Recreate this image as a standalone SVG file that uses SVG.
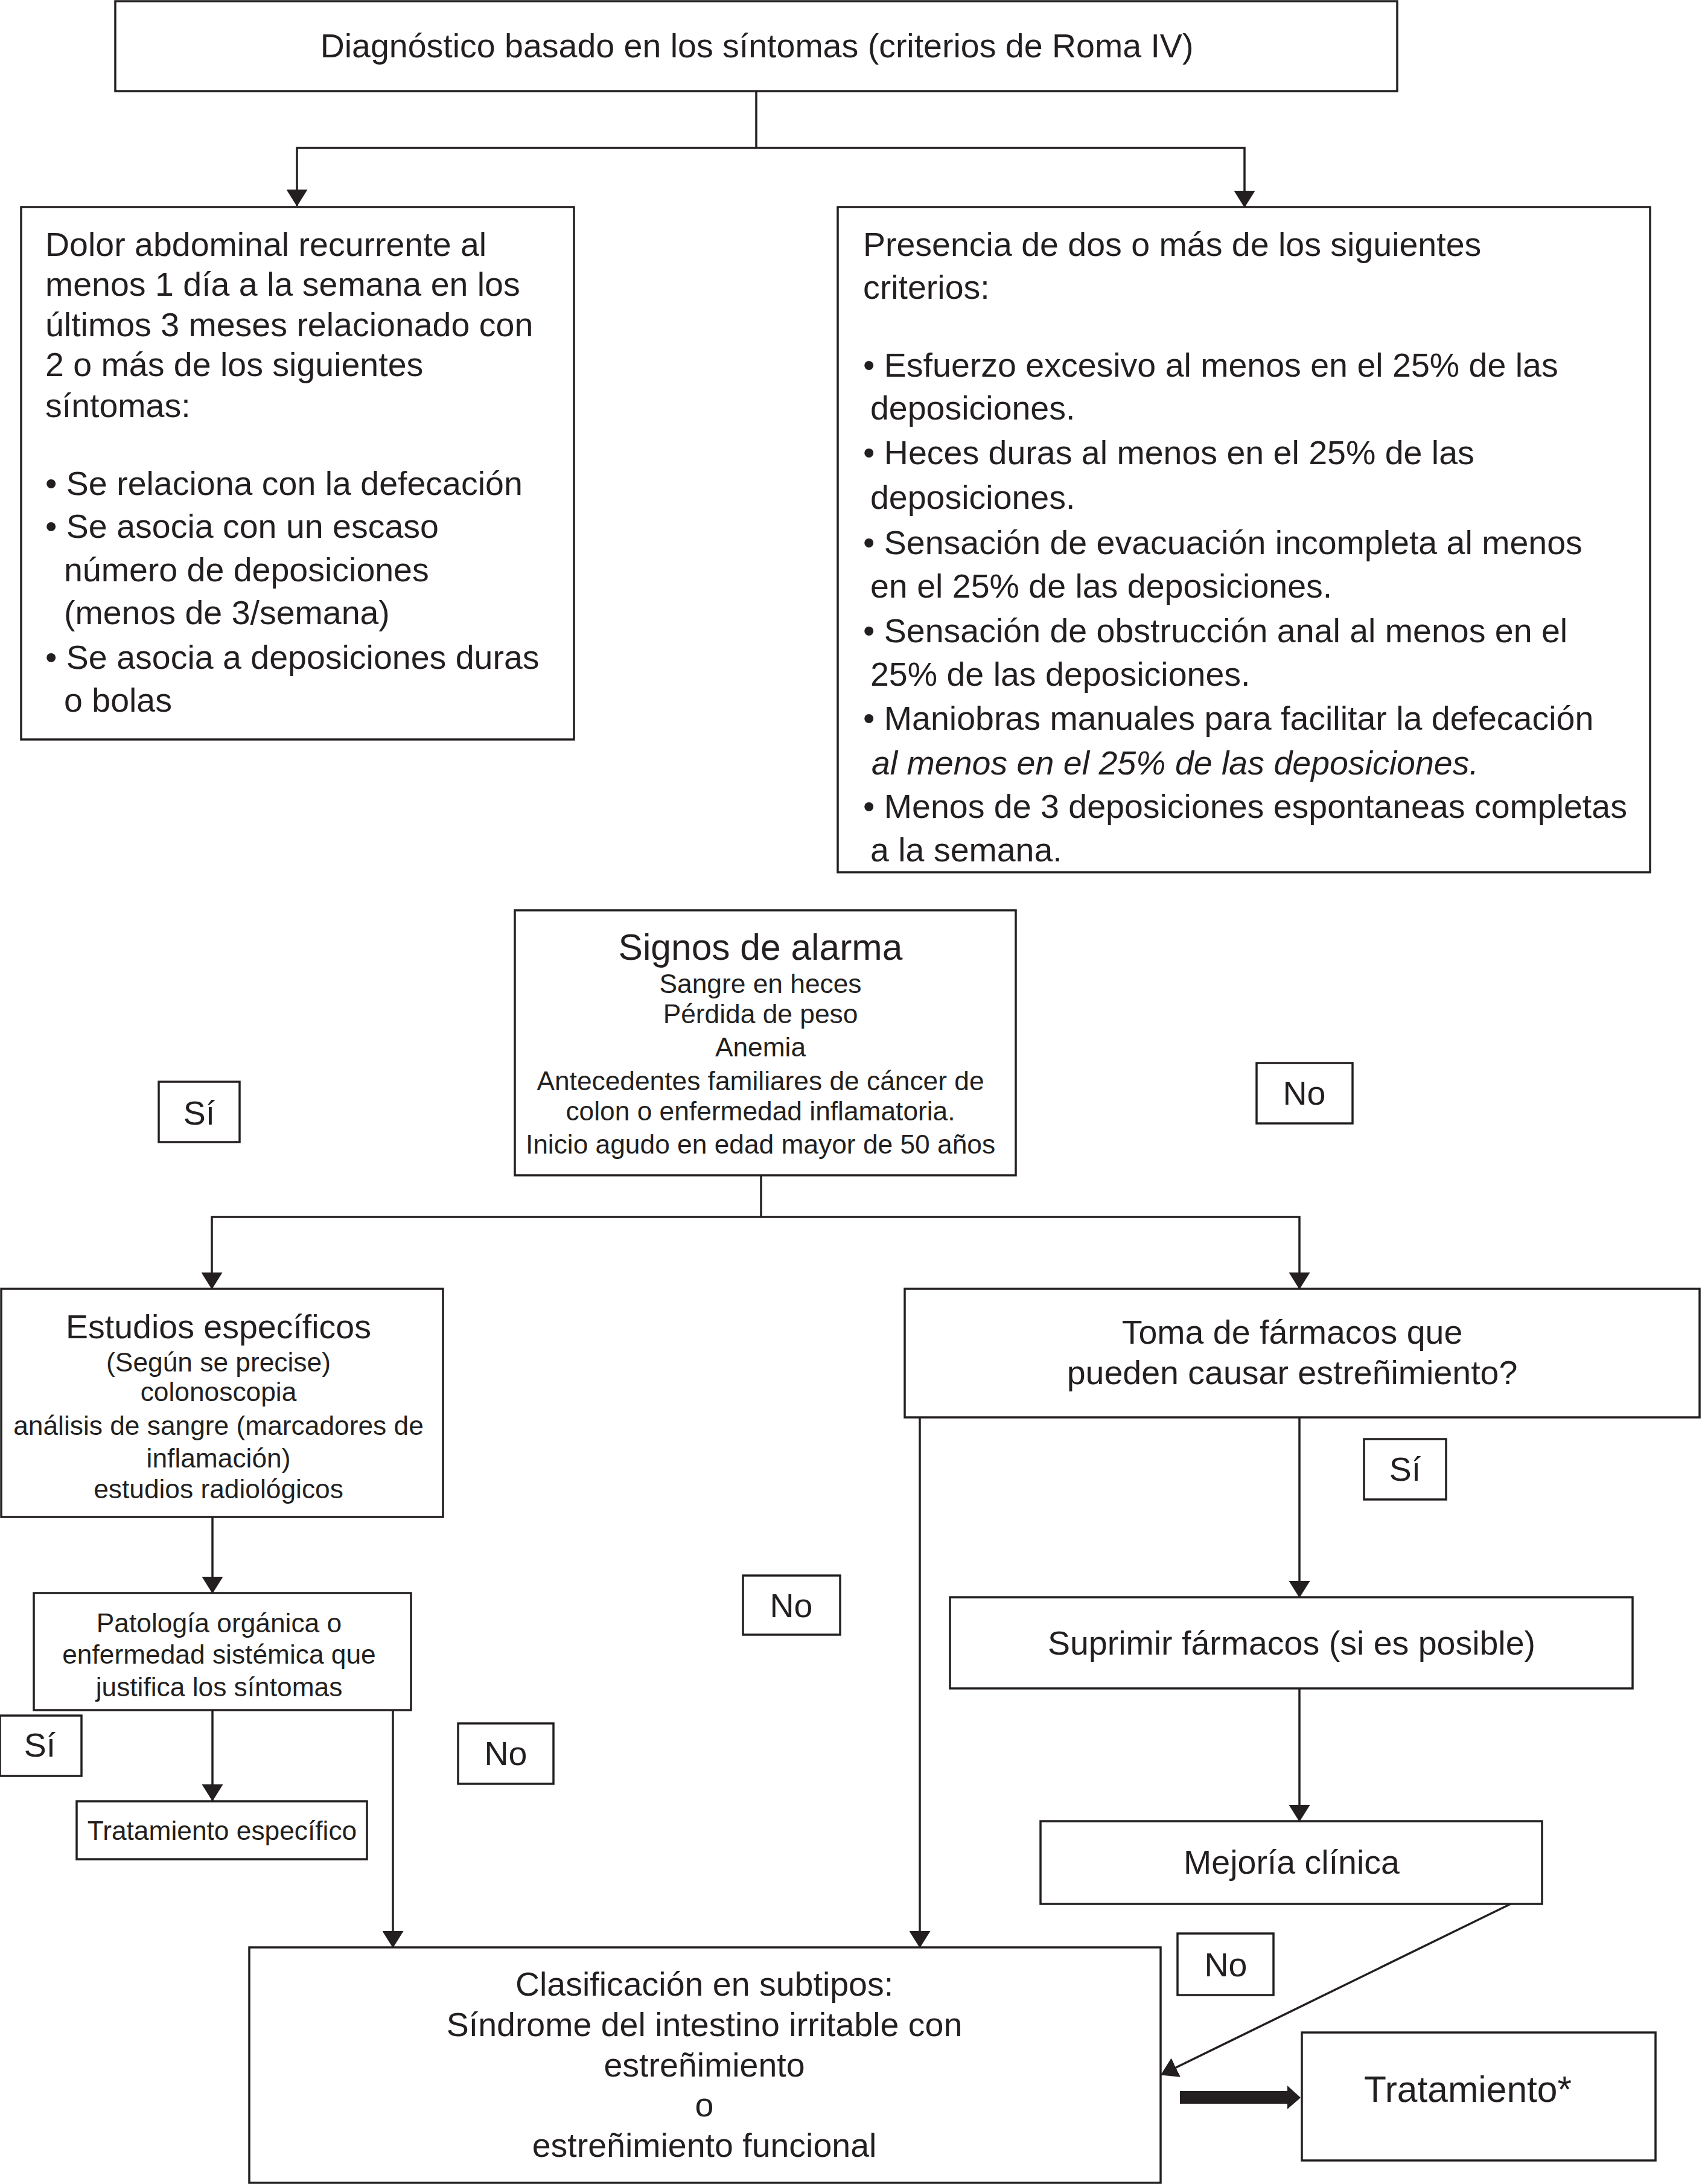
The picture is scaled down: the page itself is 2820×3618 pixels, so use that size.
<svg xmlns="http://www.w3.org/2000/svg" width="2820" height="3618" viewBox="0 0 2820 3618">
<style>
  .box { fill: #ffffff; stroke: #231f20; stroke-width: 3.5; }
  .t { font-family: "Liberation Sans", Arial, sans-serif; fill: #231f20; }
  .m { font-size: 55.5px; }
  .s { font-size: 44.3px; }
  .h { font-size: 60.5px; }
  .c { text-anchor: middle; }
  .it { font-style: italic; }
  .ln { fill: none; stroke: #231f20; stroke-width: 3.5; }
  .ar { marker-end: url(#arrow); }
</style>
<defs>
  <marker id="arrow" markerUnits="userSpaceOnUse" viewBox="0 0 28 35" markerWidth="28" markerHeight="35" refX="27" refY="17.5" orient="auto">
    <path d="M0,0 L28,17.5 L0,35 Z" fill="#231f20"/>
  </marker>
</defs>
<rect width="2820" height="3618" fill="#ffffff"/>

<g id="connectors">
  <polyline class="ln" points="1253,151 1253,245"/>
  <polyline class="ln ar" points="1253,245 492,245 492,341"/>
  <polyline class="ln ar" points="1253,245 2062,245 2062,343"/>
  <polyline class="ln" points="1261,1947 1261,2016"/>
  <polyline class="ln ar" points="1261,2016 351,2016 351,2135"/>
  <polyline class="ln ar" points="1261,2016 2153,2016 2153,2135"/>
  <line class="ln ar" x1="352" y1="2513" x2="352" y2="2639"/>
  <line class="ln ar" x1="352" y1="2833" x2="352" y2="2983"/>
  <line class="ln ar" x1="651" y1="2833" x2="651" y2="3226"/>
  <line class="ln ar" x1="1524" y1="2348" x2="1524" y2="3226"/>
  <line class="ln ar" x1="2153" y1="2348" x2="2153" y2="2646"/>
  <line class="ln ar" x1="2153" y1="2797" x2="2153" y2="3017"/>
  <line class="ln ar" x1="2503" y1="3154" x2="1924" y2="3437"/>
  <polygon points="1955,3464 2133,3464 2133,3455 2155,3475 2133,3494 2133,3485 1955,3485" fill="#231f20"/>
</g>

<g id="diagnostico">
  <rect class="box" x="191" y="2" width="2124" height="149"/>
  <text class="t m c" x="1254" y="95">Diagnóstico basado en los síntomas (criterios de Roma IV)</text>
</g>

<g id="dolor">
  <rect class="box" x="35" y="343" width="916" height="882"/>
  <text class="t m" x="75" y="424">Dolor abdominal recurrente al</text>
  <text class="t m" x="75" y="490">menos 1 día a la semana en los</text>
  <text class="t m" x="75" y="557">últimos 3 meses relacionado con</text>
  <text class="t m" x="75" y="623">2 o más de los siguientes</text>
  <text class="t m" x="75" y="691">síntomas:</text>
  <text class="t m" x="75" y="820">• Se relaciona con la defecación</text>
  <text class="t m" x="75" y="891">• Se asocia con un escaso</text>
  <text class="t m" x="106" y="963">número de deposiciones</text>
  <text class="t m" x="106" y="1034">(menos de 3/semana)</text>
  <text class="t m" x="75" y="1108">• Se asocia a deposiciones duras</text>
  <text class="t m" x="106" y="1179">o bolas</text>
</g>

<g id="criterios">
  <rect class="box" x="1388" y="343" width="1346" height="1102"/>
  <text class="t m" x="1430" y="424">Presencia de dos o más de los siguientes</text>
  <text class="t m" x="1430" y="495">criterios:</text>
  <text class="t m" x="1430" y="624">• Esfuerzo excesivo al menos en el 25% de las</text>
  <text class="t m" x="1442" y="695">deposiciones.</text>
  <text class="t m" x="1430" y="769">• Heces duras al menos en el 25% de las</text>
  <text class="t m" x="1442" y="843">deposiciones.</text>
  <text class="t m" x="1430" y="918">• Sensación de evacuación incompleta al menos</text>
  <text class="t m" x="1442" y="990">en el 25% de las deposiciones.</text>
  <text class="t m" x="1430" y="1064">• Sensación de obstrucción anal al menos en el</text>
  <text class="t m" x="1442" y="1136">25% de las deposiciones.</text>
  <text class="t m" x="1430" y="1209">• Maniobras manuales para facilitar la defecación</text>
  <text class="t m it" x="1444" y="1283">al menos en el 25% de las deposiciones.</text>
  <text class="t m" x="1430" y="1355">• Menos de 3 deposiciones espontaneas completas</text>
  <text class="t m" x="1442" y="1427">a la semana.</text>
</g>

<g id="signos">
  <rect class="box" x="853" y="1508" width="830" height="439"/>
  <text class="t h c" x="1260" y="1590">Signos de alarma</text>
  <text class="t s c" x="1260" y="1645">Sangre en heces</text>
  <text class="t s c" x="1260" y="1695">Pérdida de peso</text>
  <text class="t s c" x="1260" y="1750">Anemia</text>
  <text class="t s c" x="1260" y="1806">Antecedentes familiares de cáncer de</text>
  <text class="t s c" x="1260" y="1856">colon o enfermedad inflamatoria.</text>
  <text class="t s c" x="1260" y="1911">Inicio agudo en edad mayor de 50 años</text>
</g>

<g id="label-si-1">
  <rect class="box" x="263" y="1792" width="134" height="100"/>
  <text class="t m c" x="330" y="1863">Sí</text>
</g>

<g id="label-no-1">
  <rect class="box" x="2082" y="1761" width="159" height="100"/>
  <text class="t m c" x="2161" y="1830">No</text>
</g>

<g id="estudios">
  <rect class="box" x="2" y="2135" width="732" height="378"/>
  <text class="t m c" x="362" y="2217">Estudios específicos</text>
  <text class="t s c" x="362" y="2272">(Según se precise)</text>
  <text class="t s c" x="362" y="2321">colonoscopia</text>
  <text class="t s c" x="362" y="2377">análisis de sangre (marcadores de</text>
  <text class="t s c" x="362" y="2431">inflamación)</text>
  <text class="t s c" x="362" y="2482">estudios radiológicos</text>
</g>

<g id="toma">
  <rect class="box" x="1499" y="2135" width="1317" height="213"/>
  <text class="t m c" x="2141" y="2226">Toma de fármacos que</text>
  <text class="t m c" x="2141" y="2293">pueden causar estreñimiento?</text>
</g>

<g id="label-si-2">
  <rect class="box" x="2260" y="2384" width="136" height="100"/>
  <text class="t m c" x="2328" y="2453">Sí</text>
</g>

<g id="patologia">
  <rect class="box" x="56" y="2639" width="625" height="194"/>
  <text class="t s c" x="363" y="2704">Patología orgánica o</text>
  <text class="t s c" x="363" y="2756">enfermedad sistémica que</text>
  <text class="t s c" x="363" y="2810">justifica los síntomas</text>
</g>

<g id="label-no-2">
  <rect class="box" x="1231" y="2610" width="161" height="98"/>
  <text class="t m c" x="1311" y="2679">No</text>
</g>

<g id="suprimir">
  <rect class="box" x="1574" y="2646" width="1131" height="151"/>
  <text class="t m c" x="2140" y="2741">Suprimir fármacos (si es posible)</text>
</g>

<g id="label-si-3">
  <rect class="box" x="0" y="2842" width="135" height="100"/>
  <text class="t m c" x="66" y="2910">Sí</text>
</g>

<g id="label-no-3">
  <rect class="box" x="759" y="2855" width="158" height="100"/>
  <text class="t m c" x="838" y="2924">No</text>
</g>

<g id="tratamiento-especifico">
  <rect class="box" x="127" y="2984" width="481" height="96"/>
  <text class="t s c" x="368" y="3048">Tratamiento específico</text>
</g>

<g id="mejoria">
  <rect class="box" x="1724" y="3017" width="831" height="137"/>
  <text class="t m c" x="2140" y="3104">Mejoría clínica</text>
</g>

<g id="label-no-4">
  <rect class="box" x="1951" y="3203" width="159" height="102"/>
  <text class="t m c" x="2031" y="3274">No</text>
</g>

<g id="clasificacion">
  <rect class="box" x="413" y="3226" width="1510" height="390"/>
  <text class="t m c" x="1167" y="3306">Clasificación en subtipos:</text>
  <text class="t m c" x="1167" y="3373">Síndrome del intestino irritable con</text>
  <text class="t m c" x="1167" y="3440">estreñimiento</text>
  <text class="t m c" x="1167" y="3506">o</text>
  <text class="t m c" x="1167" y="3573">estreñimiento funcional</text>
</g>

<g id="tratamiento">
  <rect class="box" x="2157" y="3367" width="586" height="212"/>
  <text class="t h c" x="2432" y="3482">Tratamiento*</text>
</g>
</svg>
